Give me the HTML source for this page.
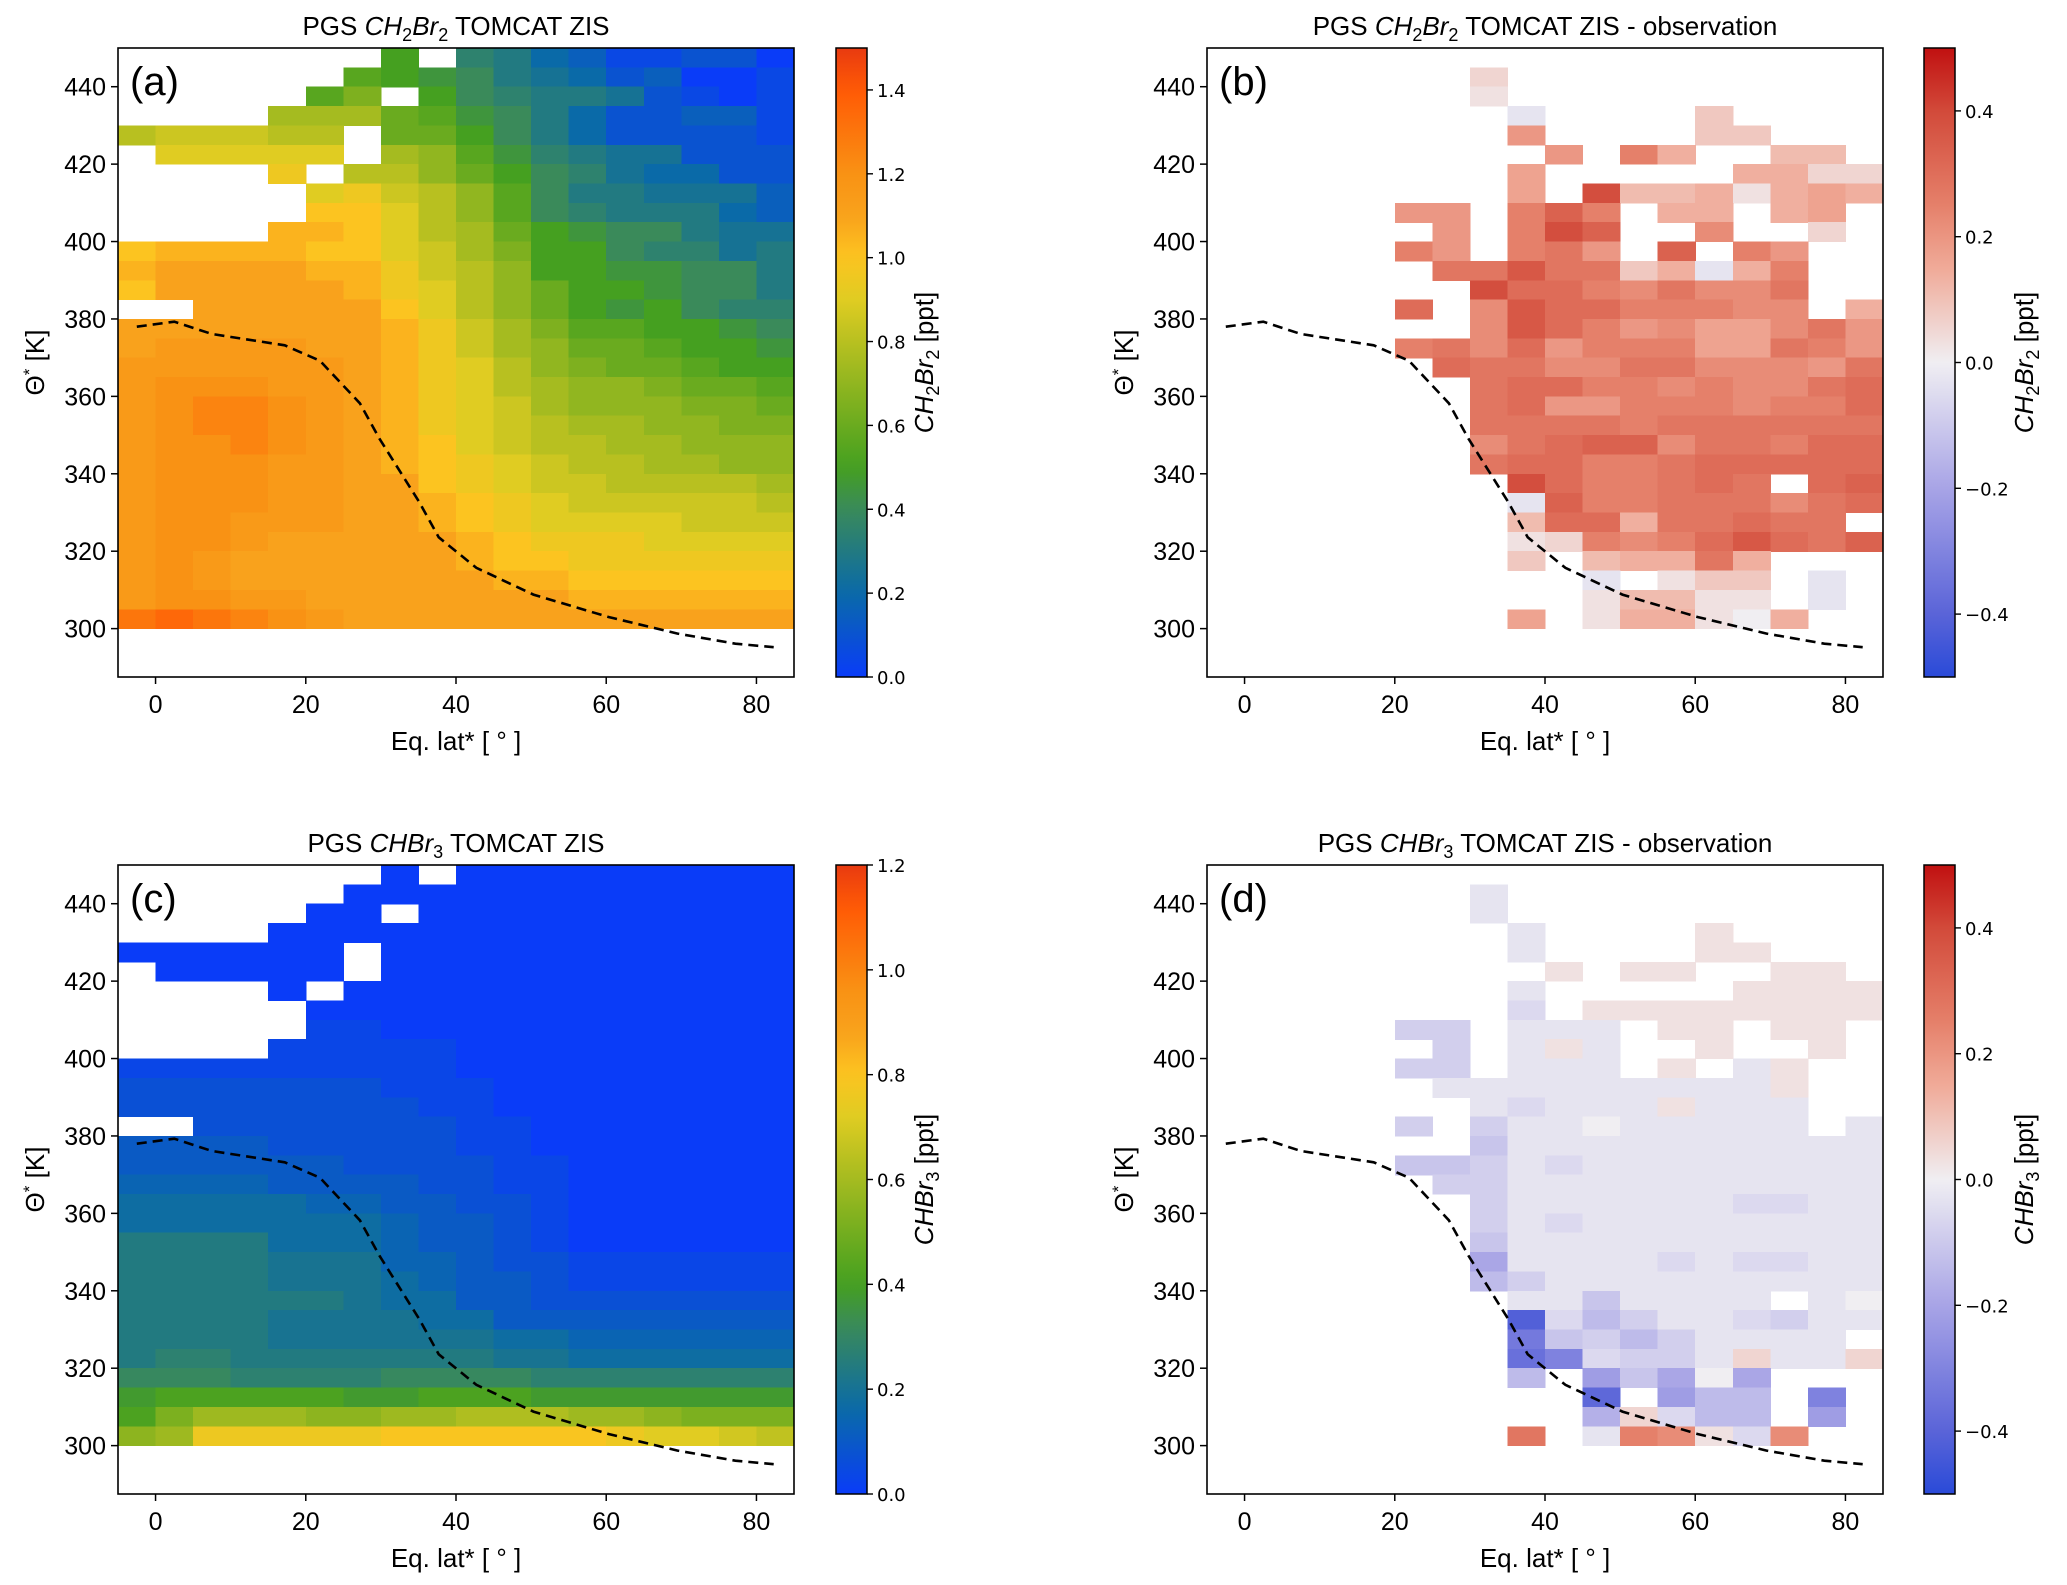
<!DOCTYPE html>
<html><head><meta charset="utf-8"><style>
html,body{margin:0;padding:0;background:#fff;}
svg{display:block;}
text{font-family:"Liberation Sans","DejaVu Sans",sans-serif;fill:#000;}
.cbt{font-family:"DejaVu Sans","Liberation Sans",sans-serif;font-size:18px;}
</style></head><body>
<svg id="fig" xmlns="http://www.w3.org/2000/svg" width="2067" height="1585" viewBox="0 0 2067 1585"></svg>
<script>
// ---------- data ----------
const latEdges = [-5,0,5,10,15,20,25,30,35,40,45,50,55,60,65,70,75,80];
const thetaEdges = [445,440,435,430,425,420,415,410,405,400,395,390,385,380,375,370,365,360,355,350,345,340,335,330,325,320,315,310,305,300];
const xTicks = [0,20,40,60,80];
const yTicks = [300,320,340,360,380,400,420,440];
const cbTicksA = [0.0,0.2,0.4,0.6,0.8,1.0,1.2,1.4];
const cbTicksC = [0.0,0.2,0.4,0.6,0.8,1.0,1.2];
const cbTicksDiff = [-0.4,-0.2,0.0,0.2,0.4];
const tpLat = [-2.5,2.5,7.5,17.2,21.9,27.2,29.8,35.1,37.7,42.7,50.3,60.3,69.5,77.2,82.3];
const tpTheta = [378,379.3,376.1,373.2,369.2,358.2,349.1,332.7,323.6,315.7,308.8,303,298.7,296.1,295.2];
// CH2Br2 model (value = base36/20)
const gridA = [
".......a.764311220","......ba9865423001",".....bd.a876652101","....fffcb986422331",
"ghhhgg.cca86422221",".iiiii.feb97655222","....j.ggeca8754422",".....ijhgeb8665553",
".....kkigeb8766643","....llkigfca988655","kllllkkihfdaa87756","lmmmmlljhgeaa99886",
"kmmmmmljigecaa9886","..mmmmmkigeca9a877","mmmmmmmljhfdbbaa98","mnnnnmmljhfeccbaa9",
"nnnnnnmljigedccbaa","nooonnmljigfeedccb","nopponmljihfeeeddc","nopponmljihgffeedd",
"nooponmlkihggffeee","nooonnmlkjihggffee","nooonnmmkjihhggggf","nooonnmmlkjihhhhhg",
"noonnnmmlkjiiiihhh","noonmmmmmlkjjjiiii","nonmmmmmmlkkjjjjjj","nonmmmmmmmllkkkkkk",
"noonnmmmmmmmllllll","qrqponmmmmmmmmmmmm"];
// CH2Br2 model - observation (value = (base36-18)/36)
const gridB = [
"..................",".......k..........",".......j..........","........h....l....",
"........p....ll...",".........p.rn..mm.","........o.....nnkk","........o.wmmnjnon",
".....pp.rur.nn.no.","......p.rwu..q..k.",".....rp.rsp.u.rp..","......ssvsslnhnr..",
".......wttrqsqqs..",".....t.qvttrrrqq.n",".......qvtrpqooqsp",".....rsqtprrroosrp",
"......tssqqssqqqps",".......sttrrqrqqst",".......stpprrrqrrt",".......ssssrssssss",
".......qstuuqssrtt",".......sttrrsttttt","........wtrrsts.tu","........hurrsssqst",
"........mttnsstss.","........jkrqrtvtsu","........l.mnnsn...","..........h.jll.h.",
"..........jmmjj.h.","........o.jnnjin.."];
// CHBr3 model (value = base36/29)
const gridC = [
".......0.000000000","......000000000000",".....00.0000000000","....00000000000000",
"000000.00000000000",".00000.00000000000","....0.000000000000",".....0000000000000",
".....1100000000000","....11111000000000","111111111000000000","222222211100000000",
"222222221100000000","..2222222110000000","333322222110000000","333333222211000000",
"444433332211000000","555554433221000000","555555543321000000","777755543321000000",
"777766644322111111","777766654332111111","777777655332222222","777766665533333333",
"777766666655444444","788777777766555555","999888899998888888","bcccccbbcccbbbbbbb",
"cfhhhgghhiiihhgfff","ghmmmmmnnnnnnmllkj"];
// CHBr3 model - observation (value = (base36-18)/36)
const gridD = [
"..................",".......h..........",".......h..........","........h....j....",
"........h....jj...",".........j.jj..jj.","........h.....jjjj","........g.jjjjjjjj",
".....ff.hhh.jj.jj.","......f.hjh..j..j.",".....ff.hhh.j.hj..","......hhhhhhhhhj..",
".......hghhhjhhh..",".....f.fhhihhhhh.h",".......ehhhhhhhhhh",".....eefhghhhhhhhh",
"......ffhhhhhhhhhh",".......fhhhhhhgghh",".......fhghhhhhhhh",".......ehhhhhhhhhh",
".......bhhhhghgghh",".......dfhhhhhhhhh","........hhehhhh.hi","........3gdfhhgfhh",
"........6efdfhhhh.","........57gffhkhhk","........d.aebib...","..........4.add.7.",
"..........ckgdd.a.","........s.hrqjgq.."];

// ---------- colormaps ----------
const cmapSeq = [[0,'#0a3cf8'],[0.133,'#0a6aa8'],[0.267,'#3a8a5a'],[0.333,'#45a020'],[0.4,'#6aab1f'],[0.533,'#b8c020'],[0.6,'#e0cc22'],[0.667,'#fcc420'],[0.733,'#f9a21c'],[0.8,'#f99214'],[0.933,'#ff5a05'],[1,'#e83a10']];
const cmapDiv = [[0,'#2a4ad8'],[0.1,'#5a64d8'],[0.3,'#a8a4e6'],[0.5,'#f0eef2'],[0.65,'#f0aa98'],[0.75,'#e5806a'],[0.9,'#d24a3a'],[1,'#c01010']];
function hex(h){return [parseInt(h.substr(1,2),16),parseInt(h.substr(3,2),16),parseInt(h.substr(5,2),16)];}
function cmap(stops,t){
  t=Math.max(0,Math.min(1,t));
  for(let i=1;i<stops.length;i++){
    if(t<=stops[i][0]){
      const a=hex(stops[i-1][1]),b=hex(stops[i][1]);
      const f=(t-stops[i-1][0])/(stops[i][0]-stops[i-1][0]);
      return 'rgb('+a.map((v,k)=>Math.round(v+(b[k]-v)*f)).join(',')+')';
    }
  }
  return stops[stops.length-1][1];
}

const NS='http://www.w3.org/2000/svg';
const svg=document.getElementById('fig');
function mk(tag,attrs,parent){const e=document.createElementNS(NS,tag);for(const k in attrs)e.setAttribute(k,attrs[k]);(parent||svg).appendChild(e);return e;}

const W=676,H=629,XMIN=-5,XMAX=85,YMIN=287.5,YMAX=450;
const panels=[
 {id:'a',left:118,top:48,grid:gridA,seq:true,div:20,vmax:1.5,cbx:836,ticks:cbTicksA,chem:['CH','2','Br','2'],obs:false},
 {id:'b',left:1207,top:48,grid:gridB,seq:false,cbx:1924,ticks:cbTicksDiff,chem:['CH','2','Br','2'],obs:true},
 {id:'c',left:118,top:865,grid:gridC,seq:true,div:29,vmax:1.2,cbx:836,ticks:cbTicksC,chem:['CHBr','3'],obs:false},
 {id:'d',left:1207,top:865,grid:gridD,seq:false,cbx:1924,ticks:cbTicksDiff,chem:['CHBr','3'],obs:true}
];

// builds italic chem formula with subscripts, then trailing text at normal baseline
function chemSpans(t,chem,size,trail){
  let pendingUp=false;
  for(let i=0;i<chem.length;i++){
    const s=document.createElementNS(NS,'tspan');
    if(i%2===0){
      s.setAttribute('font-style','italic');
      if(pendingUp){s.setAttribute('dy','-6');pendingUp=false;}
    } else {
      s.setAttribute('font-size',Math.round(size*0.7));
      s.setAttribute('dy','6');
      pendingUp=true;
    }
    s.textContent=chem[i];
    t.appendChild(s);
  }
  const r=document.createElementNS(NS,'tspan');
  if(pendingUp)r.setAttribute('dy','-6');
  r.textContent=trail;
  t.appendChild(r);
}

panels.forEach(p=>{
  const xS=v=>p.left+(v-XMIN)/(XMAX-XMIN)*W;
  const yS=v=>p.top+(YMAX-v)/(YMAX-YMIN)*H;
  const g=mk('g',{});
  
  
  const cells=mk('g',{'shape-rendering':'crispEdges'},g);
  
  
  p.grid.forEach((row,r)=>{
    for(let c=0;c<row.length;c++){
      const ch=row[c]; if(ch==='.')continue;
      const n=parseInt(ch,36);
      let col;
      if(p.seq){col=cmap(cmapSeq,(n/p.div)/p.vmax);}
      else{const v=(n-18)/36;col=cmap(cmapDiv,(v+0.5)/1.0);}
      const x0=xS(latEdges[c]),x1=xS(latEdges[c]+5);
      const y0=yS(thetaEdges[r]+5),y1=yS(thetaEdges[r]);
      const rc=mk('rect',{x:x0.toFixed(2),y:y0.toFixed(2),width:(x1-x0+0.6).toFixed(2),height:(y1-y0+0.6).toFixed(2),fill:col},cells);
      
      
    }
  });
  const pts=tpLat.map((la,i)=>xS(la).toFixed(1)+','+yS(tpTheta[i]).toFixed(1)).join(' ');
  const pl=mk('polyline',{points:pts,fill:'none',stroke:'#000','stroke-width':2.6,'stroke-dasharray':'10,6'},g);
  
  
  const fr=mk('rect',{x:p.left,y:p.top,width:W,height:H,fill:'none',stroke:'#000','stroke-width':1.6},g);
  
  
  xTicks.forEach(v=>{
    const x=xS(v);
    mk('line',{x1:x,y1:p.top+H,x2:x,y2:p.top+H+7,stroke:'#000','stroke-width':1.5},g);
    const t=mk('text',{x:x,y:p.top+H+36,'font-size':25,'text-anchor':'middle'},g);
    t.textContent=v;
    
    
  });
  yTicks.forEach(v=>{
    const y=yS(v);
    mk('line',{x1:p.left-7,y1:y,x2:p.left,y2:y,stroke:'#000','stroke-width':1.5},g);
    const t=mk('text',{x:p.left-12,y:y+9,'font-size':25,'text-anchor':'end'},g);
    t.textContent=v;
    
    
  });
  const xl=mk('text',{x:p.left+W/2,y:p.top+H+73,'font-size':26,'text-anchor':'middle'},g);
  xl.textContent='Eq. lat* [ \u00b0 ]';
  
  
  const yx=p.left-74,yy=p.top+H/2;
  const yl=mk('text',{x:yx,y:yy,'font-size':26,'text-anchor':'middle',transform:'rotate(-90 '+yx+' '+yy+')'},g);
  
  
  yl.appendChild(document.createTextNode('\u0398'));
  const sup=document.createElementNS(NS,'tspan');sup.setAttribute('dy','-9');sup.setAttribute('font-size','17');sup.textContent='*';yl.appendChild(sup);
  const rest=document.createElementNS(NS,'tspan');rest.setAttribute('dy','9');rest.textContent=' [K]';yl.appendChild(rest);
  const tt=mk('text',{x:p.left+W/2,y:p.top-13,'font-size':26,'text-anchor':'middle'},g);
  
  
  tt.appendChild(document.createTextNode('PGS '));
  chemSpans(tt,p.chem,26,p.obs?' TOMCAT ZIS - observation':' TOMCAT ZIS');
  const pl2=mk('text',{x:p.left+12,y:p.top+47,'font-size':40},g);
  pl2.textContent='('+p.id+')';
  
  
  const gid='grad'+p.id;
  const defs=mk('defs',{},g);
  const lg=mk('linearGradient',{id:gid,x1:0,y1:1,x2:0,y2:0},defs);
  const stops=p.seq?cmapSeq:cmapDiv;
  for(let i=0;i<=40;i++){const t=i/40;mk('stop',{offset:t,'stop-color':cmap(stops,t)},lg);}
  const cw=31;
  const cb=mk('rect',{x:p.cbx,y:p.top,width:cw,height:H,fill:'url(#'+gid+')',stroke:'#000','stroke-width':1.5},g);
  
  
  const vmin=p.seq?0:-0.5,vmax=p.seq?p.vmax:0.5;
  p.ticks.forEach(v=>{
    const y=p.top+H-(v-vmin)/(vmax-vmin)*H;
    mk('line',{x1:p.cbx+cw,y1:y,x2:p.cbx+cw+6,y2:y,stroke:'#000','stroke-width':1.4},g);
    const t=mk('text',{x:p.cbx+cw+10,y:y+7,class:'cbt'},g);
    t.textContent=(v<0?'\u2212':'')+Math.abs(v).toFixed(1);
    
    
  });
  const lx=p.cbx+cw+(p.seq?66:78),ly=p.top+H/2;
  const cl=mk('text',{x:lx,y:ly,'font-size':26,'text-anchor':'middle',transform:'rotate(-90 '+lx+' '+ly+')'},g);
  
  
  chemSpans(cl,p.chem,26,' [ppt]');
});
</script>
</body></html>
